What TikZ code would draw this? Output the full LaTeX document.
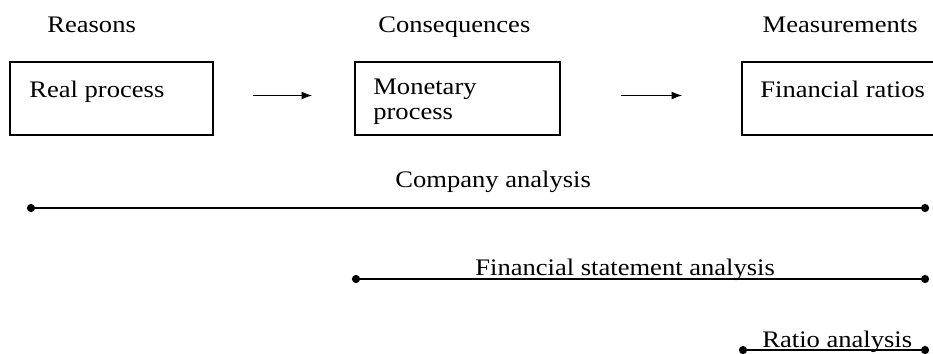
\documentclass[tikz,border=0pt]{standalone}
\usepackage{fontspec}
\setmainfont{Liberation Serif}[FakeStretch=1.12]
\usetikzlibrary{arrows.meta}

\tikzset{
  procbox/.style={draw,line width=0.85pt,minimum height=1.46cm,inner sep=0pt},
  txt/.style={inner sep=0pt,font=\fontsize{13.5}{14.2}\selectfont},
  flow/.style={-{Latex[length=6pt,width=4.5pt]},line width=0.85pt},
  span/.style={line width=1.2pt},
  dot/.style={circle,fill,inner sep=0pt,minimum size=0.165cm}
}

\begin{document}
\begin{tikzpicture}[x=0.02cm,y=-0.02cm]
      \clip (0,0) rectangle (933,353);
      \path[use as bounding box] (0,0) rectangle (933,353);
      % headings
      \node [txt,anchor=base west] (reasons) at (47,32) {Reasons};
      \node [txt,anchor=base west] (conseq) at (378,32) {Consequences};
      \node [txt,anchor=base east] (measure) at (918,32) {Measurements};
      % the three boxes
      \node [procbox,minimum width=4.06cm] (real) at (111.5,98.5) {};
      \node [procbox,minimum width=4.1cm] (monetary) at (457.5,98.5) {};
      \node [procbox,minimum width=4cm] (ratios) at (842,98.5) {};
      \node [txt,anchor=base west] (realtxt) at (29,97) {Real process};
      \node [txt,anchor=north west,align=left] (montxt) at (373,79) {Monetary\\process};
      \node [txt,anchor=base west] (ratiotxt) at (760,97) {Financial ratios};
      \draw [flow,shorten <=39*0.02cm,shorten >=42*0.02cm] ([yshift=0.06cm]real.east) -- ([yshift=0.06cm]monetary.west);
      \draw [flow,shorten <=60*0.02cm,shorten >=59*0.02cm] ([yshift=0.06cm]monetary.east) -- ([yshift=0.06cm]ratios.west);
      % spans of the analyses
      \node [dot] (ca-l) at (31,208) {};
      \node [dot] (ca-r) at (925,208) {};
      \draw [span] (ca-l) -- (ca-r);
      \node [txt,anchor=base west] (catxt) at (395,187) {Company analysis};
      \node [dot] (fsa-l) at (356,279) {};
      \node [dot] (fsa-r) at (925,279) {};
      \draw [span] (fsa-l) -- (fsa-r);
      \node [txt,anchor=base west] (fsatxt) at (475,275) {Financial statement analysis};
      \node [dot] (ra-l) at (743,350) {};
      \node [dot] (ra-r) at (925,350) {};
      \draw [span] (ra-l) -- (ra-r);
      \node [txt,anchor=base west] (ratxt) at (762,347) {Ratio analysis};
    \end{tikzpicture}
\end{document}
